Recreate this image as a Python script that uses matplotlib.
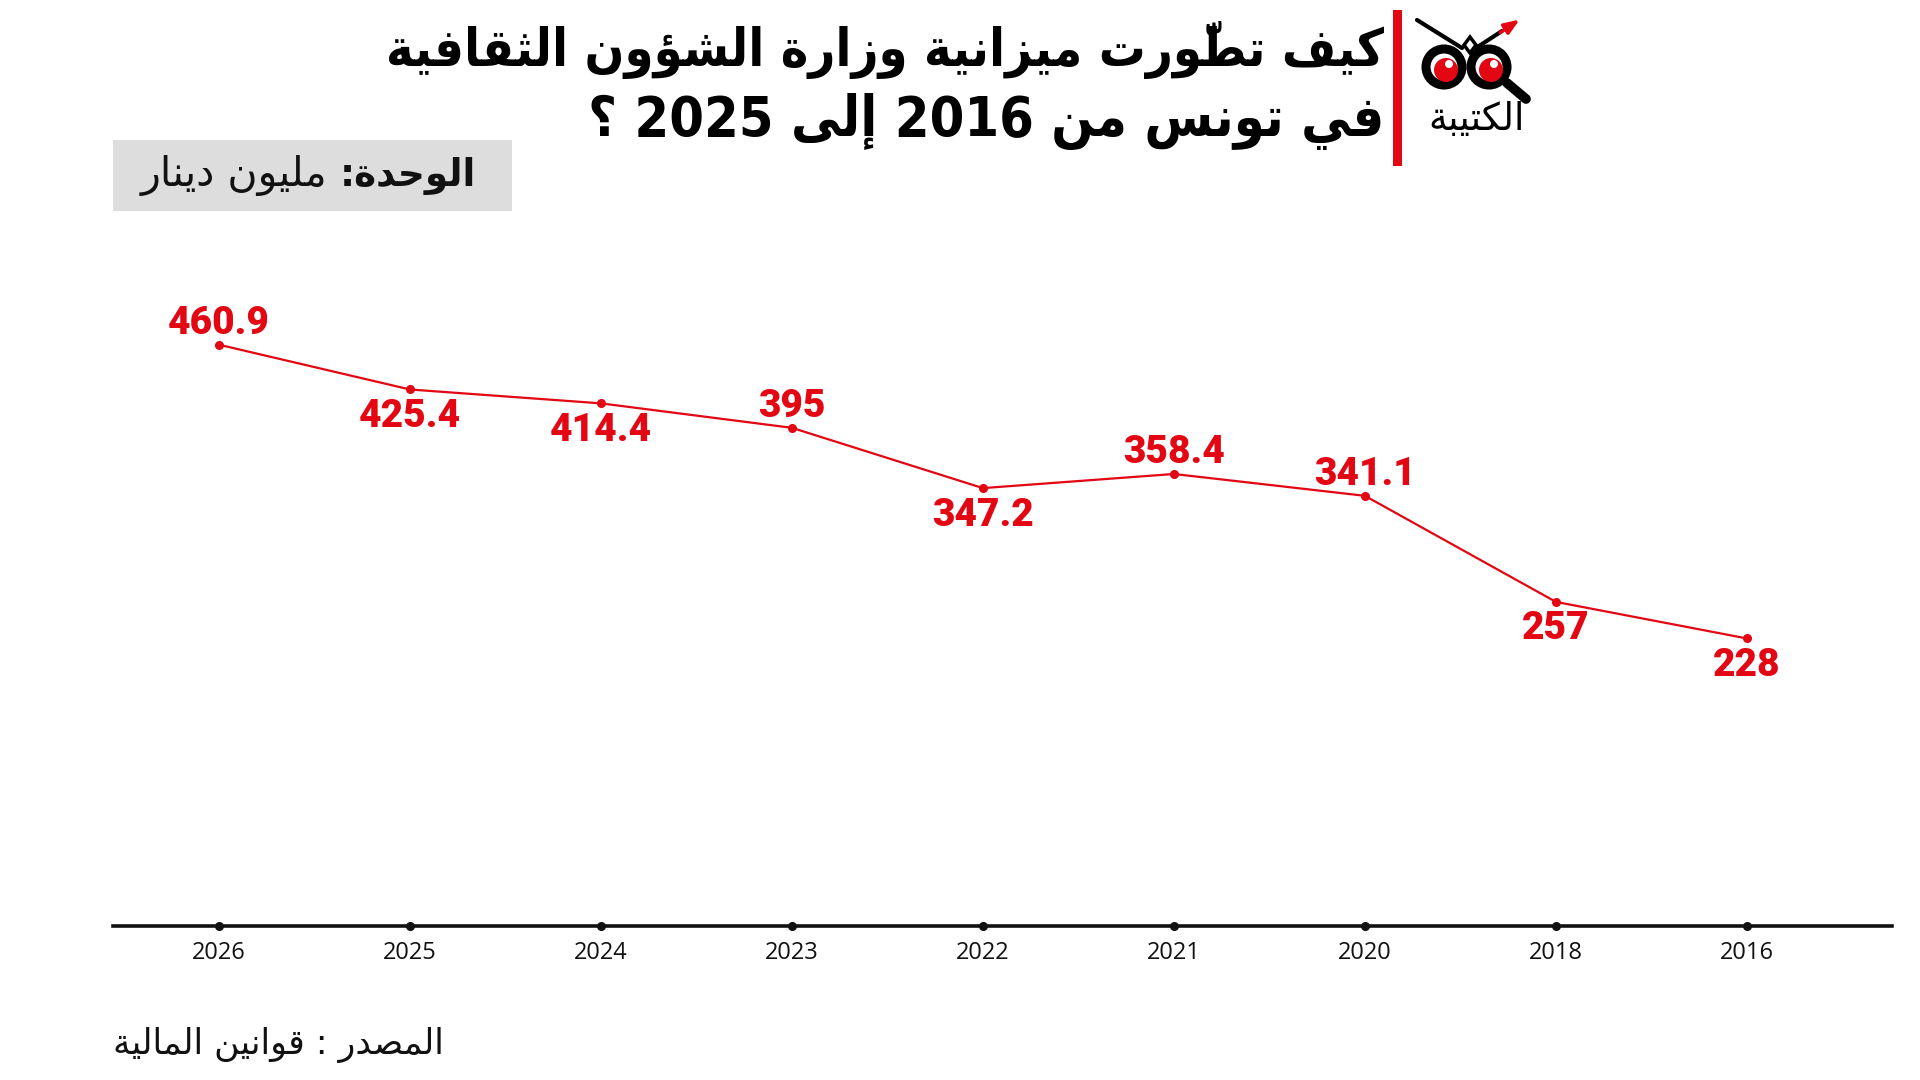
import matplotlib
matplotlib.use('Agg')
import matplotlib.pyplot as plt
from matplotlib.patches import Rectangle, Circle, Polygon

# ── data ─────────────────────────────────────────────────────────────
years = ['2026', '2025', '2024', '2023', '2022', '2021', '2020', '2018', '2016']
budget = [460.9, 425.4, 414.4, 395, 347.2, 358.4, 341.1, 257, 228]
label_side = ['up', 'down', 'down', 'up', 'down', 'up', 'up', 'down', 'down']

title_1 = 'كيف تطوّرت ميزانية وزارة الشؤون الثقافية'
title_2 = 'في تونس من 2016 إلى 2025 ؟'
unit_bold = 'الوحدة:'
unit_rest = 'مليون دينار'
source = 'المصدر : قوانين المالية'
brand = 'الكتيبة'

RED = '#E30613'

# ── minimal arabic shaping (matplotlib has no RTL / joining) ───────────
# isolated, final, initial, medial
FORMS = {
    'ء': (0xFE80, None, None, None), 'آ': (0xFE81, 0xFE82, None, None),
    'أ': (0xFE83, 0xFE84, None, None), 'ؤ': (0xFE85, 0xFE86, None, None),
    'إ': (0xFE87, 0xFE88, None, None), 'ئ': (0xFE89, 0xFE8A, 0xFE8B, 0xFE8C),
    'ا': (0xFE8D, 0xFE8E, None, None), 'ب': (0xFE8F, 0xFE90, 0xFE91, 0xFE92),
    'ة': (0xFE93, 0xFE94, None, None), 'ت': (0xFE95, 0xFE96, 0xFE97, 0xFE98),
    'ث': (0xFE99, 0xFE9A, 0xFE9B, 0xFE9C), 'ج': (0xFE9D, 0xFE9E, 0xFE9F, 0xFEA0),
    'ح': (0xFEA1, 0xFEA2, 0xFEA3, 0xFEA4), 'خ': (0xFEA5, 0xFEA6, 0xFEA7, 0xFEA8),
    'د': (0xFEA9, 0xFEAA, None, None), 'ذ': (0xFEAB, 0xFEAC, None, None),
    'ر': (0xFEAD, 0xFEAE, None, None), 'ز': (0xFEAF, 0xFEB0, None, None),
    'س': (0xFEB1, 0xFEB2, 0xFEB3, 0xFEB4), 'ش': (0xFEB5, 0xFEB6, 0xFEB7, 0xFEB8),
    'ص': (0xFEB9, 0xFEBA, 0xFEBB, 0xFEBC), 'ض': (0xFEBD, 0xFEBE, 0xFEBF, 0xFEC0),
    'ط': (0xFEC1, 0xFEC2, 0xFEC3, 0xFEC4), 'ظ': (0xFEC5, 0xFEC6, 0xFEC7, 0xFEC8),
    'ع': (0xFEC9, 0xFECA, 0xFECB, 0xFECC), 'غ': (0xFECD, 0xFECE, 0xFECF, 0xFED0),
    'ف': (0xFED1, 0xFED2, 0xFED3, 0xFED4), 'ق': (0xFED5, 0xFED6, 0xFED7, 0xFED8),
    'ك': (0xFED9, 0xFEDA, 0xFEDB, 0xFEDC), 'ل': (0xFEDD, 0xFEDE, 0xFEDF, 0xFEE0),
    'م': (0xFEE1, 0xFEE2, 0xFEE3, 0xFEE4), 'ن': (0xFEE5, 0xFEE6, 0xFEE7, 0xFEE8),
    'ه': (0xFEE9, 0xFEEA, 0xFEEB, 0xFEEC), 'و': (0xFEED, 0xFEEE, None, None),
    'ى': (0xFEEF, 0xFEF0, None, None), 'ي': (0xFEF1, 0xFEF2, 0xFEF3, 0xFEF4),
}
LAM_ALEF = {'ا': (0xFEFB, 0xFEFC), 'أ': (0xFEF7, 0xFEF8),
            'إ': (0xFEF9, 0xFEFA), 'آ': (0xFEF5, 0xFEF6)}


def is_mark(c):
    return 0x064B <= ord(c) <= 0x0652


def joins_next(c):
    return c in FORMS and FORMS[c][2] is not None


def ar(text):
    chars = list(text)
    n = len(chars)

    def neighbour(i, step):
        j = i + step
        while 0 <= j < n and is_mark(chars[j]):
            j += step
        return (chars[j], j) if 0 <= j < n else (None, None)

    shaped = []
    skip = set()
    for i, c in enumerate(chars):
        if i in skip:
            continue
        if c not in FORMS:
            shaped.append(c)
            continue
        prev, _ = neighbour(i, -1)
        nxt, j = neighbour(i, 1)
        jp = prev is not None and joins_next(prev) and FORMS[c][1] is not None
        if c == 'ل' and nxt in LAM_ALEF:
            shaped.append(chr(LAM_ALEF[nxt][1 if jp else 0]))
            skip.add(j)
            continue
        jn = nxt is not None and nxt in FORMS and joins_next(c)
        iso, fin, ini, med = FORMS[c]
        if jp and jn:
            code = med
        elif jp:
            code = fin
        elif jn:
            code = ini
        else:
            code = iso
        shaped.append(chr(code))

    # group into clusters (base + marks), keep latin/digit runs LTR
    clusters = []
    for c in shaped:
        if is_mark(c) and clusters:
            clusters[-1] += c
        else:
            clusters.append(c)
    runs, cur = [], []
    for cl in clusters:
        if cl[0].isascii() and (cl[0].isalnum() or (cl[0] == '.' and cur)):
            cur.append(cl)
        else:
            if cur:
                runs.append(''.join(cur))
                cur = []
            runs.append(cl)
    if cur:
        runs.append(''.join(cur))
    return ''.join(reversed(runs))


AR_FONT = ['DejaVu Sans']

# ── figure ───────────────────────────────────────────────────────────
fig = plt.figure(figsize=(19.2, 10.8), dpi=100)
fig.patch.set_facecolor('white')

# decoration layer in pixel coordinates
deco = fig.add_axes([0, 0, 1, 1], zorder=0)
deco.set_xlim(0, 1920)
deco.set_ylim(1080, 0)
deco.axis('off')

# title
deco.text(1384, 50, ar(title_1), ha='right', va='center', fontsize=37.5,
          fontweight='bold', family=AR_FONT, fontstretch='condensed', color='black')
deco.text(1384, 122, ar(title_2), ha='right', va='center', fontsize=40,
          fontweight='bold', family=AR_FONT, fontstretch='condensed', color='black')

# red separator
deco.add_patch(Rectangle((1393, 10), 9, 156, color=RED, lw=0))

# logo
deco.plot([1417, 1462], [20, 48], color='black', lw=3, solid_capstyle='round')
deco.plot([1476, 1502], [48, 31], color='black', lw=3, solid_capstyle='round')
deco.annotate('', xy=(1522, 18), xytext=(1498, 34),
              arrowprops=dict(arrowstyle='-|>,head_length=0.9,head_width=0.35',
                              color=RED, lw=2.5))
deco.add_patch(Polygon([(1470, 37), (1476, 45), (1470, 53), (1464, 45)],
                       closed=True, fc='white', ec='black', lw=2.5))
deco.plot([1507, 1526], [83, 99], color='black', lw=7, solid_capstyle='round')
for cx in (1444, 1489):
    deco.add_patch(Circle((cx, 67), 18, fc='white', ec='black', lw=6.5))
    deco.add_patch(Circle((cx + 2, 70), 12, fc=RED, ec='none'))
    deco.add_patch(Circle((cx + 5, 64), 4, fc='white', ec='none'))
deco.text(1477, 120, ar(brand), ha='center', va='center', fontsize=27,
          family=AR_FONT, color='black')

# unit box
deco.add_patch(Rectangle((113, 140), 399, 71, color='#DDDDDD', lw=0))
deco.text(476, 176, ar(unit_bold), ha='right', va='center', fontsize=27,
          fontweight='bold', family=AR_FONT, color='#111111')
deco.text(327, 176, ar(unit_rest), ha='right', va='center', fontsize=29.5,
          family=AR_FONT, color='#111111')

# source
deco.text(113, 1045, ar(source), ha='left', va='center', fontsize=25,
          family=AR_FONT, color='#111111')

# ── chart ────────────────────────────────────────────────────────────
ax = fig.add_axes([113 / 1920, 1 - 926 / 1080, (1892 - 113) / 1920, (926 - 250) / 1080],
                  zorder=2)
ax.patch.set_alpha(0)
x = list(range(len(years)))
ax.plot(x, budget, color=RED, lw=1.6, marker='o', markersize=5.5,
        markerfacecolor=RED, markeredgecolor=RED, zorder=3)
ax.set_xlim(-0.555, 8.76)
ax.set_ylim(0, 536)

for xi, v, side in zip(x, budget, label_side):
    off = 21 if side == 'up' else -27
    ax.annotate(f'{v:g}', (xi, v), xytext=(0, off), textcoords='offset pixels',
                ha='center', va='center', fontsize=28, fontweight='black',
                family=['Roboto', 'DejaVu Sans'], color=RED, zorder=4)

for s in ('top', 'right', 'left'):
    ax.spines[s].set_visible(False)
ax.spines['bottom'].set_linewidth(2.6)
ax.spines['bottom'].set_color('#111111')
ax.set_yticks([])
ax.set_xticks(x)
ax.set_xticklabels(years, fontsize=17, family=['Open Sans', 'DejaVu Sans'], color='#111111')
ax.tick_params(axis='x', length=0, pad=11)
ax.plot(x, [0] * len(x), 'o', color='#111111', markersize=5.5, clip_on=False, zorder=5)

fig.savefig('out.png', dpi=100, facecolor='white')
